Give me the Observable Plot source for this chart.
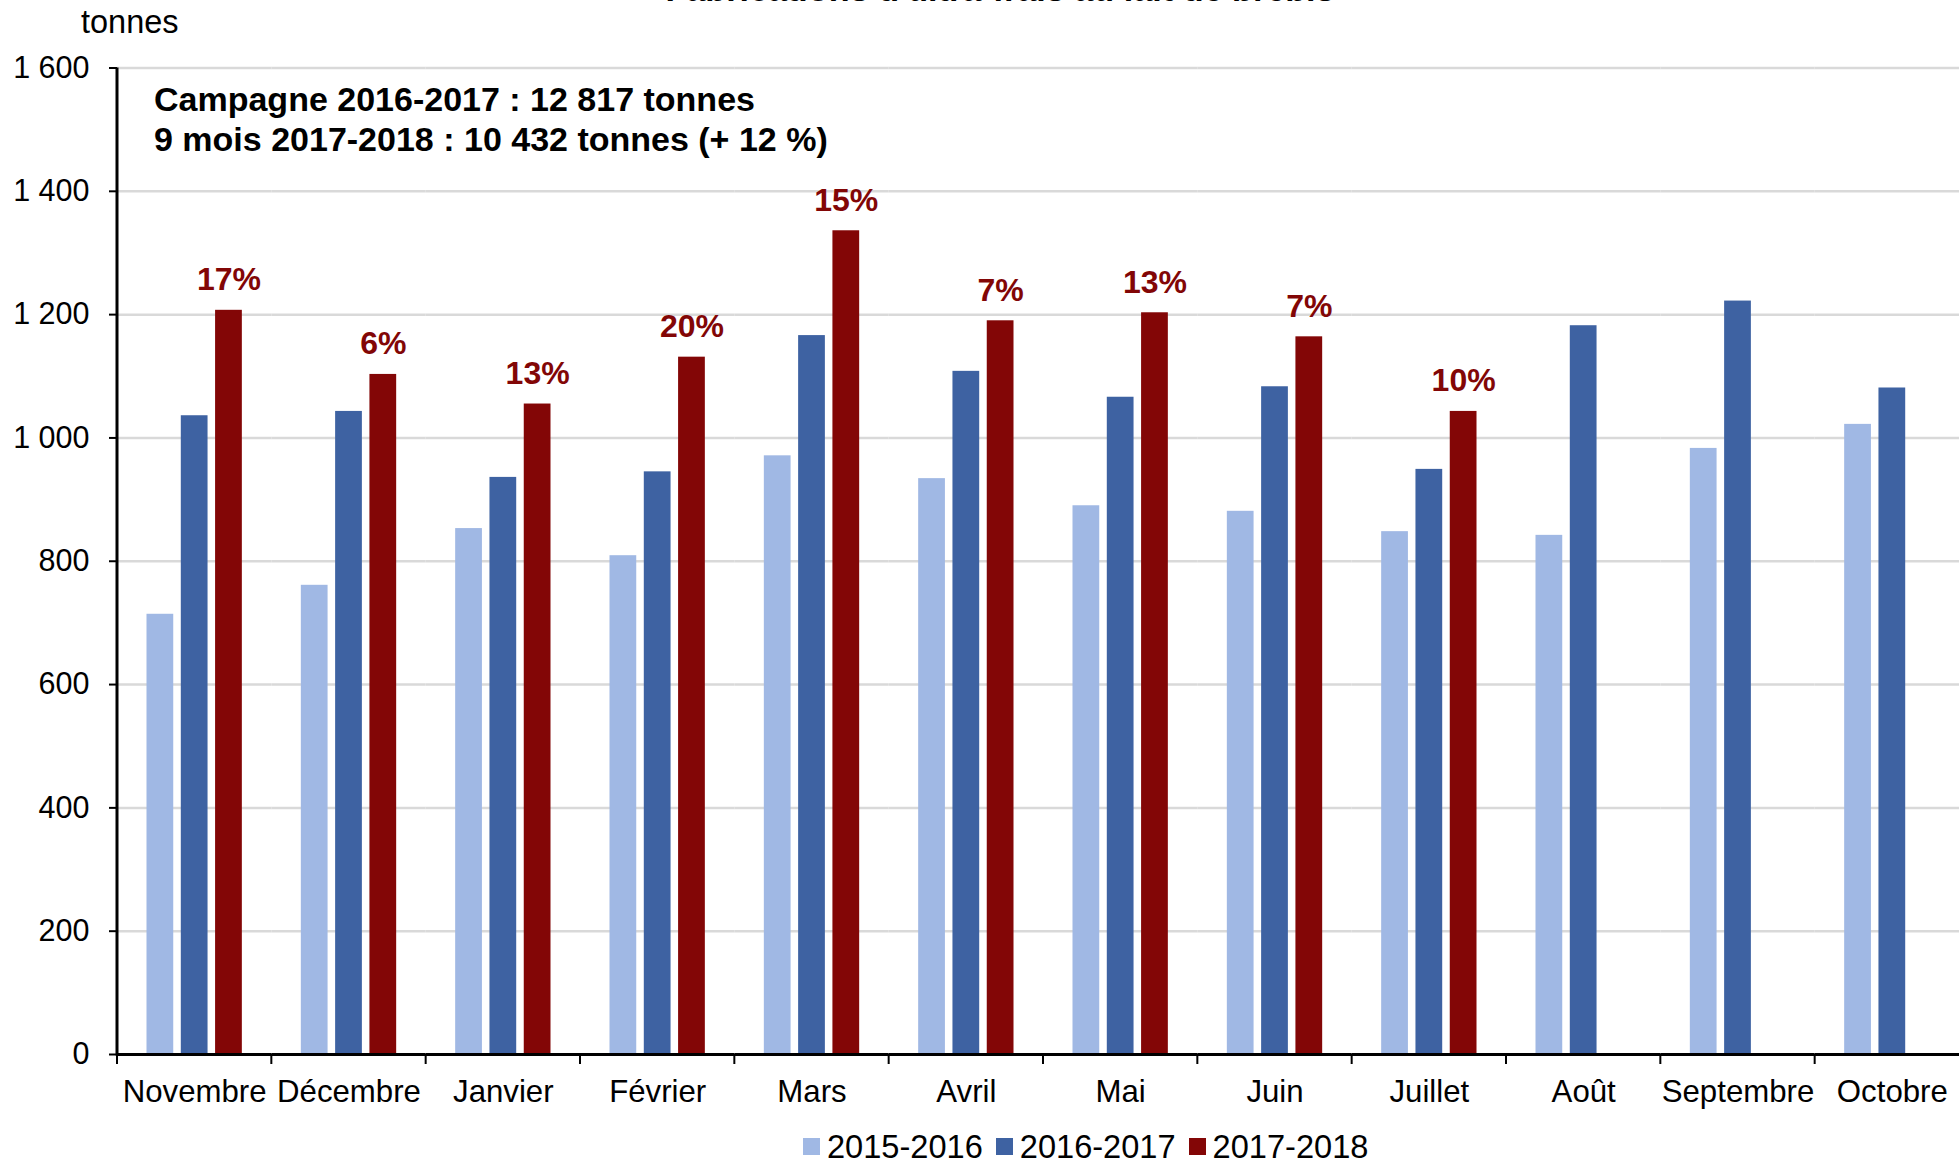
<!DOCTYPE html>
<html>
<head>
<meta charset="utf-8">
<script src="https://cdn.jsdelivr.net/npm/d3@7"></script>
<script src="https://cdn.jsdelivr.net/npm/@observablehq/plot@0.6"></script>
<style>
html, body { margin: 0; padding: 0; overflow: hidden; background: #fff; width: 1959px; height: 1161px; }
body { position: relative; font-family: "Liberation Sans", Arial, sans-serif; color: #000; }
#chart svg { max-width: none !important; display: block; }
.abs { position: absolute; white-space: nowrap; }
#title { font-weight: bold; font-size: 34.2px; line-height: 34px; top: -28px; left: 1000px; transform: translateX(-50%); }
#unit { font-size: 32.5px; line-height: 32px; top: 5.5px; left: 81px; }
#note { font-weight: bold; font-size: 34px; line-height: 40px; top: 79px; left: 154px; }
#legend { font-size: 32.6px; line-height: 24px; top: 1134.5px; left: 803px; display: flex; align-items: center; }
#legend .sw { width: 17px; height: 17px; margin-right: 7px; }
#legend .lab { margin-right: 13px; }
</style>
</head>
<body>
<div id="chart" style="position:absolute;left:0;top:0;"></div>
<div id="title" class="abs">Fabrications d'ultra-frais au lait de brebis</div>
<div id="unit" class="abs">tonnes</div>
<div id="note" class="abs"><div>Campagne 2016-2017 : 12 817 tonnes</div><div>9 mois 2017-2018 : 10 432 tonnes (+ 12 %)</div></div>
<div id="legend" class="abs"></div>
<script>
const months = ["Novembre", "Décembre", "Janvier", "Février", "Mars", "Avril", "Mai", "Juin", "Juillet", "Août", "Septembre", "Octobre"];
const series = ["2015-2016", "2016-2017", "2017-2018"];
const v2015_2016 = [714, 761, 853, 809, 971, 934, 890, 881, 848, 842, 983, 1022];
const v2016_2017 = [1036, 1043, 936, 945, 1166, 1108, 1066, 1083, 949, 1182, 1222, 1081];
const v2017_2018 = [1207, 1103, 1055, 1131, 1336, 1190, 1203, 1164, 1043];
const pctLabels = ["17%", "6%", "13%", "20%", "15%", "7%", "13%", "7%", "10%"];
const yTicks = [0, 200, 400, 600, 800, 1000, 1200, 1400, 1600];
const colors = ["#A0B8E4", "#3E62A2", "#830606"];
const labelColor = "#820606";

const seriesValues = [v2015_2016, v2016_2017, v2017_2018];
const rows = [];
months.forEach((m, i) => {
  seriesValues.forEach((arr, j) => {
    if (arr[i] != null) rows.push({month: m, series: series[j], value: arr[i]});
  });
});
const labels = v2017_2018.map((v, i) => ({month: months[i], series: series[2], value: v, label: pctLabels[i]}));

const fmt = d3.formatLocale({decimal: ",", thousands: " ", grouping: [3], currency: ["", ""]}).format(",d");

const plot = Plot.plot({
  width: 1970,
  height: 1120,
  marginLeft: 117,
  marginRight: 1,
  marginTop: 67.5,
  marginBottom: 66,
  style: {fontFamily: '"Liberation Sans", Arial, sans-serif', color: "#000", background: "transparent", maxWidth: "none", overflow: "visible"},
  fx: {domain: months, padding: 0, label: null, round: false},
  x: {domain: series, paddingInner: 0.22, paddingOuter: 0.86, round: false, axis: null},
  y: {domain: [0, 1600]},
  color: {domain: series, range: colors},
  marks: [
    Plot.gridY(yTicks.filter(d => d > 0), {stroke: "#d9d9d9", strokeOpacity: 1, strokeWidth: 2.5}),
    Plot.barY(rows, {fx: "month", x: "series", y: "value", fill: "series"}),
    Plot.text(labels, {fx: "month", x: "series", y: "value", text: "label", dy: -20, lineAnchor: "bottom", fill: labelColor, fontWeight: "bold", fontSize: 32}),
    Plot.ruleY([0], {stroke: "#000", strokeWidth: 3}),
    Plot.axisY({ticks: yTicks, tickFormat: fmt, tickSize: 8, tickPadding: 20, fontSize: 30.5, stroke: "#000", strokeWidth: 2, label: null}),
    Plot.axisFx({anchor: "bottom", tickSize: 0, tickPadding: 25, fontSize: 31.2, label: null})
  ]
});
document.getElementById("chart").append(plot);

// left axis line and category boundary ticks, positioned with Plot's scales
const fx = plot.scale("fx");
const ys = plot.scale("y");
const y0 = ys.apply(0), yTop = ys.apply(1600);
const svg = d3.select(plot.tagName.toLowerCase() === "svg" ? plot : plot.querySelector("svg"));
const g = svg.append("g").attr("stroke", "#000").attr("fill", "none");
const left = fx.range[0];
g.append("line").attr("x1", left).attr("x2", left).attr("y1", yTop).attr("y2", y0 + 1.5).attr("stroke-width", 3);
const edges = months.map(m => fx.apply(m)).concat([fx.range[1]]);
edges.forEach(e => {
  g.append("line").attr("x1", e).attr("x2", e).attr("y1", y0).attr("y2", y0 + 10).attr("stroke-width", 2);
});

// legend
const legend = d3.select("#legend");
series.forEach((s, i) => {
  legend.append("span").attr("class", "sw").style("background", colors[i]).style("display", "inline-block");
  legend.append("span").attr("class", "lab").text(s);
});
</script>
</body>
</html>
